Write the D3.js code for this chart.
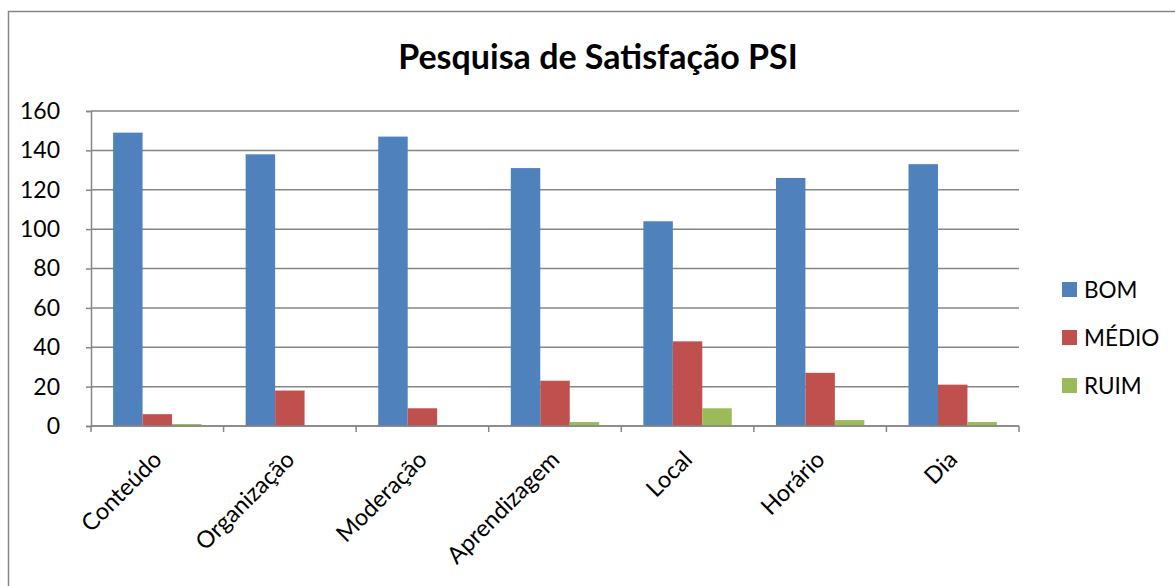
<!DOCTYPE html>
<html>
<head>
<meta charset="utf-8">
<script src="https://cdn.jsdelivr.net/npm/d3@7"></script>
<style>
  body { margin: 0; background: #fff; }
  text { font-family: Lato, "Open Sans", sans-serif; fill: #000; }
</style>
</head>
<body>
<div id="chart"></div>
<script>
// chart data
const categories = ["Conteúdo", "Organização", "Moderação", "Aprendizagem", "Local", "Horário", "Dia"];
const series = ["BOM", "MÉDIO", "RUIM"];
const bom = [149, 138, 147, 131, 104, 126, 133];
const medio = [6, 18, 9, 23, 43, 27, 21];
const ruim = [1, 0, 0, 2, 9, 3, 2];
const yTicks = [0, 20, 40, 60, 80, 100, 120, 140, 160];
const colors = ["#4f81bd", "#c0504d", "#9bbb59"];

const values = [bom, medio, ruim];
const data = categories.map((c, i) => ({cat: c, vals: series.map((s, j) => ({key: s, value: values[j][i]}))}));

const W = 1175, H = 586;
const plot = {left: 91, right: 1019, top: 111, bottom: 426};

const svg = d3.select("#chart").append("svg")
    .attr("width", W)
    .attr("height", H);

// outer chart border
svg.append("rect")
    .attr("x", 8.5).attr("y", 11.5)
    .attr("width", W + 10).attr("height", H + 10)
    .attr("fill", "none")
    .attr("stroke", "#868686")
    .attr("stroke-width", 1.5);

const x0 = d3.scaleBand()
    .domain(categories)
    .range([plot.left, plot.right])
    .paddingInner(1 / 3)
    .paddingOuter(1 / 6);

const x1 = d3.scaleBand()
    .domain(series)
    .range([0, x0.bandwidth()]);

const y = d3.scaleLinear()
    .domain([0, 160])
    .range([plot.bottom, plot.top]);

// gridlines
svg.append("g")
    .selectAll("line")
    .data(yTicks)
  .enter().append("line")
    .attr("x1", plot.left).attr("x2", plot.right)
    .attr("y1", d => y(d)).attr("y2", d => y(d))
    .attr("stroke", "#868686")
    .attr("stroke-width", 1.5);

// bars
const groups = svg.append("g")
    .selectAll("g")
    .data(data)
  .enter().append("g")
    .attr("transform", d => `translate(${x0(d.cat)},0)`);

groups.selectAll("rect")
    .data(d => d.vals)
  .enter().append("rect")
    .attr("x", d => x1(d.key))
    .attr("y", d => y(d.value))
    .attr("width", x1.bandwidth())
    .attr("height", d => y(0) - y(d.value))
    .attr("fill", (d, i) => colors[i]);

// y axis
const yAxis = svg.append("g")
    .attr("transform", `translate(${plot.left},0)`)
    .call(d3.axisLeft(y).tickValues(yTicks).tickSize(5).tickPadding(26));
yAxis.select(".domain").attr("stroke", "#868686").attr("stroke-width", 1.5);
yAxis.selectAll(".tick line").attr("stroke", "#868686").attr("stroke-width", 1.5);
yAxis.selectAll("text").style("font-size", "23px").style("font-family", "Lato, sans-serif");

// x axis: ticks on category boundaries
const step = x0.step();
const bounds = d3.range(categories.length + 1).map(i => plot.left + i * step);
svg.append("line")
    .attr("x1", plot.left).attr("x2", plot.right)
    .attr("y1", y(0)).attr("y2", y(0))
    .attr("stroke", "#868686").attr("stroke-width", 1.5);
svg.append("g")
    .selectAll("line")
    .data(bounds)
  .enter().append("line")
    .attr("x1", d => d).attr("x2", d => d)
    .attr("y1", y(0)).attr("y2", y(0) + 6)
    .attr("stroke", "#868686").attr("stroke-width", 1.5);

svg.append("g")
    .selectAll("text")
    .data(categories)
  .enter().append("text")
    .attr("text-anchor", "end")
    .attr("transform", d => `translate(${x0(d) + x0.bandwidth() / 2 + 6},${y(0) + 35}) rotate(-45)`)
    .style("font-size", "23.5px")
    .text(d => d);

// title
svg.append("text")
    .attr("x", 598).attr("y", 69)
    .attr("text-anchor", "middle")
    .style("font-size", "34px")
    .style("font-weight", "bold")
    .text("Pesquisa de Satisfação PSI");

// legend
const legend = svg.append("g")
    .selectAll("g")
    .data(series)
  .enter().append("g")
    .attr("transform", (d, i) => `translate(1062,${289 + i * 48})`);
legend.append("rect")
    .attr("x", 0).attr("y", -7)
    .attr("width", 15).attr("height", 15)
    .attr("fill", (d, i) => colors[i]);
legend.append("text")
    .attr("x", 22).attr("y", 9)
    .style("font-size", "22.5px")
    .text(d => d);
</script>
</body>
</html>
